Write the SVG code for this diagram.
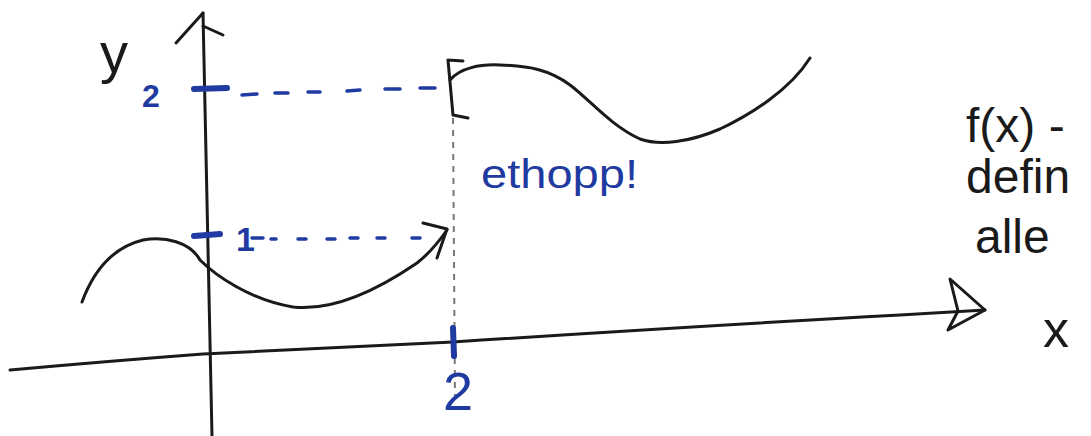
<svg xmlns="http://www.w3.org/2000/svg" width="1091" height="436" viewBox="0 0 1091 436">
<style>
.ink{fill:none;stroke:#1a1a1a;stroke-width:3;stroke-linecap:round;stroke-linejoin:round}
.blue{fill:none;stroke:#1f3aa0;stroke-linecap:round}
.dash{stroke-width:3.5}
.tick{stroke-width:6}
.guide{fill:none;stroke:#777;stroke-width:2;stroke-dasharray:6 6}
.bt{fill:#1f3aa0;font-family:"Liberation Sans",sans-serif}
.kt{fill:#1a1a1a;font-family:"Liberation Sans",sans-serif}
</style>
<rect width="1091" height="436" fill="#ffffff"/>
<g id="axes">
  <path class="ink" d="M203,13 L212,436"/>
  <path class="ink" stroke="#555" d="M176,43 L203,13 M203,26 L223,35"/>
  <path class="ink" d="M10,370 Q110,361 203,354 L453,342 Q700,326 900,315 L985,310"/>
  <path class="ink" d="M950,279 L985,310 L948,330 L958,311 Z"/>
</g>
<g id="guides">
  <path class="guide" d="M453,118 L455,400"/>
  <g class="blue dash">
    <path d="M242,95 L257,94 M275,93 L288,93 M308,92 L320,92 M347,91 L360,90 M385,89 L400,89 M420,88 L435,88"/>
    <path d="M252,238 L263,238 M271,239 L276,239 M298,239 L306,239 M327,239 L335,239 M350,238 L358,238 M377,238 L385,238 M412,238 L420,238"/>
  </g>
  <path class="blue tick" d="M194,89 L227,88"/>
  <path class="blue tick" d="M194,236 L220,234"/>
  <path class="blue tick" d="M453,328 L454,356"/>
</g>
<g id="curve-left">
  <path class="ink" d="M82,302 C92,275 110,248 143,240 C165,236 190,242 200,260 C215,275 250,300 293,307 C320,310 360,302 417,263 C430,253 440,240 447,230"/>
  <path class="ink" d="M423,223 L447,229 L437,258"/>
</g>
<g id="curve-right">
  <path class="ink" d="M448,60 L463,61 M448,60 L453,115 L468,118"/>
  <path class="ink" d="M450,80 C460,68 480,64 500,65 C530,66 550,70 570,85 C590,100 610,125 640,139 C660,146 690,142 720,129 C750,115 790,90 810,58"/>
</g>
<g id="labels">
  <text class="kt" x="100" y="72" font-size="56" fill="#333">y</text>
  <text class="bt" x="142" y="107" font-size="32" font-weight="bold">2</text>
  <text class="bt" x="236" y="251" font-size="34" font-weight="bold">1</text>
  <text class="bt" x="443" y="410" font-size="54">2</text>
  <text class="bt" x="481" y="188" font-size="40" textLength="157" lengthAdjust="spacingAndGlyphs">ethopp!</text>
  <text class="kt" x="966" y="142" font-size="48">f(x) -</text>
  <text class="kt" x="966" y="193" font-size="48">defin</text>
  <text class="kt" x="975" y="253" font-size="48">alle</text>
  <text class="kt" x="1043" y="347" font-size="52">x</text>
</g>
</svg>
